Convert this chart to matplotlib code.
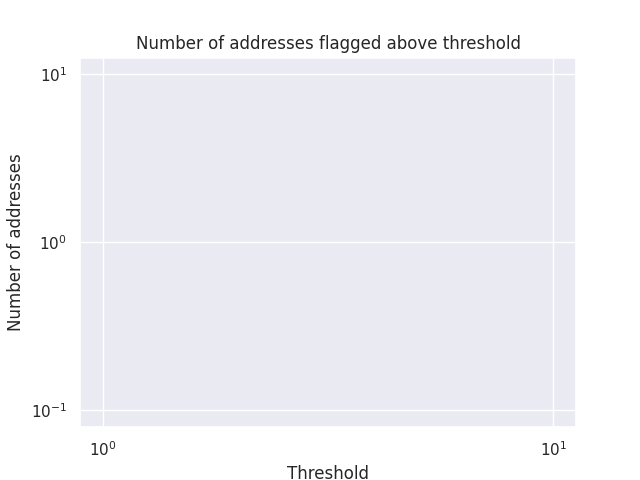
import matplotlib
matplotlib.use("Agg")
import matplotlib.pyplot as plt
import seaborn as sns

sns.set_theme()

# nothing got flagged, so the series is empty
thresholds = []
num_addresses = []

fig, ax = plt.subplots(figsize=(6.4, 4.8), dpi=100)
ax.loglog(thresholds, num_addresses, marker="o")

ax.set_xlim(10 ** -0.05, 10 ** 1.05)
ax.set_ylim(10 ** -1.1, 10 ** 1.1)

ax.set_title("Number of addresses flagged above threshold")
ax.set_xlabel("Threshold")
ax.set_ylabel("Number of addresses")

fig.savefig("out.png")
